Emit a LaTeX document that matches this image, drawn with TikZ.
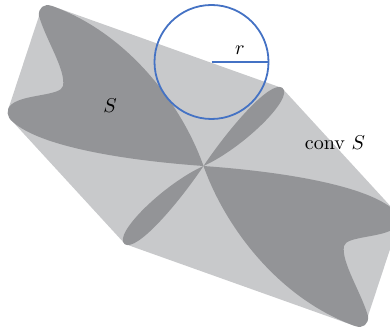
\documentclass[tikz,border=0pt]{standalone}
\usetikzlibrary{positioning}
\definecolor{hullgray}{RGB}{200,201,203}
\definecolor{setgray}{RGB}{147,148,151}
\definecolor{probeblue}{RGB}{68,114,196}
\tikzset{
    hull/.style={fill=hullgray, draw=none},
    blob/.style={fill=setgray, draw=none},
    probe/.style={circle, draw=probeblue, line width=0.9pt, minimum size=57pt, inner sep=0pt, outer sep=0pt},
    spoke/.style={draw=probeblue, line width=0.9pt},
    lbl/.style={font=\normalsize, inner sep=1pt},
}

\begin{document}
\begin{tikzpicture}[x=0.5pt, y=0.5pt]
    \useasboundingbox (-203.5,-165) rectangle (186.5,166);
    \clip (-203.5,-165) rectangle (186.5,166);
    \fill[hull] (-151.5,160) -- (78.5,78) -- (190.5,-44) -- (195.5,-56) -- (164.5,-150) -- (151.5,-160)
        -- (-78.5,-78) -- (-190.5,44) -- (-195.5,56) -- (-164.5,150) -- cycle;
    \foreach \a in {0,180} {
        \begin{scope}[rotate=\a]
            \fill[blob] (0,0) .. controls (-22,62) and (-76,133) .. (-151.5,160)
                .. controls (-159.5,163) and (-165.5,158) .. (-164.5,150)
                .. controls (-157.5,126) and (-137.5,96) .. (-140.5,80)
                .. controls (-142.5,70) and (-178.5,72) .. (-191.5,62)
                .. controls (-198.5,57) and (-196.5,48) .. (-190.5,44)
                .. controls (-163.5,20) and (-83.5,6) .. (0,0) -- cycle;
            \fill[blob, rotate=44.8] (0,0) .. controls (45,9) and (108,14) .. (111,0)
                .. controls (113,-16) and (40,-15) .. (0,0) -- cycle;
        \end{scope}
    }
    \node[probe] (ball) at (8,104) {};
    \draw[spoke] (ball.center) -- (ball.east);
    \node[lbl] (rlab) at (36.5,116) {$r$};
    \node[lbl] (slab) at (-93.5,60) {$S$};
    \node[lbl] (clab) at (131.5,23) {conv $S$};
\end{tikzpicture}
\end{document}
